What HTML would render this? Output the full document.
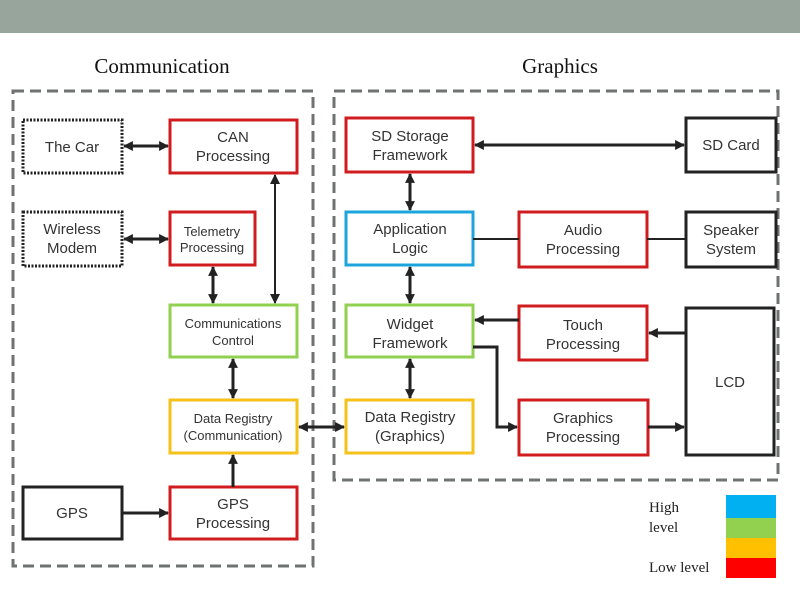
<!DOCTYPE html>
<html><head><style>body{margin:0;background:#fff}</style></head><body>
<svg width="800" height="600" xmlns="http://www.w3.org/2000/svg" font-family="Liberation Sans, sans-serif">
<defs>
<marker id="a" viewBox="0 0 10 10" refX="9" refY="5" markerWidth="3.3" markerHeight="3.3" orient="auto-start-reverse"><path d="M0,0L10,5L0,10z" fill="#222"/></marker>
<marker id="b" viewBox="0 0 10 10" refX="9" refY="5" markerWidth="5" markerHeight="5" orient="auto-start-reverse"><path d="M0,0L10,5L0,10z" fill="#222"/></marker>
</defs>
<rect x="0" y="0" width="800" height="33" fill="#97a59c"/>
<g font-family="Liberation Serif, serif" font-size="21" text-anchor="middle" fill="#111">
<text x="162" y="73">Communication</text><text x="560" y="73">Graphics</text></g>
<g fill="none" stroke="#6f7370" stroke-width="3" stroke-dasharray="11,6">
<rect x="13" y="91" width="300" height="475"/><rect x="334" y="91" width="444" height="389"/></g>
<g fill="#fff" stroke-width="3">
<rect x="23" y="120" width="99" height="53" stroke="#222" stroke-dasharray="2,1.5"/>
<rect x="23" y="212" width="99" height="54" stroke="#222" stroke-dasharray="2,1.5"/>
<rect x="170" y="120" width="127" height="53" stroke="#d01c1f"/>
<rect x="170" y="212" width="85" height="53" stroke="#d01c1f"/>
<rect x="170" y="305" width="127" height="52" stroke="#92d050"/>
<rect x="170" y="400" width="127" height="53" stroke="#f5c21b"/>
<rect x="23" y="487" width="99" height="52" stroke="#222"/>
<rect x="170" y="487" width="127" height="52" stroke="#d01c1f"/>
<rect x="346" y="118" width="127" height="54" stroke="#d01c1f"/>
<rect x="686" y="118" width="90" height="54" stroke="#222"/>
<rect x="346" y="212" width="127" height="53" stroke="#1ca5dd"/>
<rect x="519" y="212" width="128" height="55" stroke="#d01c1f"/>
<rect x="686" y="212" width="90" height="55" stroke="#222"/>
<rect x="346" y="305" width="127" height="52" stroke="#92d050"/>
<rect x="519" y="306" width="128" height="54" stroke="#d01c1f"/>
<rect x="686" y="308" width="88" height="147" stroke="#222"/>
<rect x="346" y="400" width="127" height="53" stroke="#f5c21b"/>
<rect x="519" y="400" width="129" height="55" stroke="#d01c1f"/>
</g>
<g stroke="#222" stroke-width="3" fill="none">
<line x1="124" y1="146" x2="168" y2="146" marker-start="url(#a)" marker-end="url(#a)"/>
<line x1="124" y1="239" x2="168" y2="239" marker-start="url(#a)" marker-end="url(#a)"/>
<line x1="213" y1="267" x2="213" y2="303" marker-start="url(#a)" marker-end="url(#a)"/>
<line x1="275" y1="175" x2="275" y2="303" stroke-width="2" marker-start="url(#b)" marker-end="url(#b)"/>
<line x1="233" y1="359" x2="233" y2="398" marker-start="url(#a)" marker-end="url(#a)"/>
<line x1="122" y1="513" x2="168" y2="513" marker-end="url(#a)"/>
<line x1="233" y1="487" x2="233" y2="455" marker-end="url(#a)"/>
<line x1="299" y1="427" x2="344" y2="427" marker-start="url(#a)" marker-end="url(#a)"/>
<line x1="475" y1="145" x2="684" y2="145" marker-start="url(#a)" marker-end="url(#a)"/>
<line x1="410" y1="174" x2="410" y2="210" marker-start="url(#a)" marker-end="url(#a)"/>
<line x1="473" y1="239" x2="519" y2="239" stroke-width="2"/>
<line x1="647" y1="239" x2="686" y2="239" stroke-width="2"/>
<line x1="410" y1="267" x2="410" y2="303" marker-start="url(#a)" marker-end="url(#a)"/>
<line x1="410" y1="359" x2="410" y2="398" marker-start="url(#a)" marker-end="url(#a)"/>
<line x1="519" y1="320" x2="475" y2="320" marker-end="url(#a)"/>
<polyline points="473,347 497,347 497,427 517,427" marker-end="url(#a)"/>
<line x1="686" y1="333" x2="649" y2="333" marker-end="url(#a)"/>
<line x1="648" y1="427" x2="684" y2="427" marker-end="url(#a)"/>
</g>
<g font-size="15" fill="#333" text-anchor="middle">
<text x="72" y="152">The Car</text>
<text x="72" y="234">Wireless</text><text x="72" y="253">Modem</text>
<text x="233" y="142">CAN</text><text x="233" y="161">Processing</text>
<text x="212" y="236" font-size="13">Telemetry</text><text x="212" y="252" font-size="13">Processing</text>
<text x="233" y="328" font-size="13">Communications</text><text x="233" y="345" font-size="13">Control</text>
<text x="233" y="423" font-size="13">Data Registry</text><text x="233" y="440" font-size="13">(Communication)</text>
<text x="72" y="518">GPS</text>
<text x="233" y="509">GPS</text><text x="233" y="528">Processing</text>
<text x="410" y="141">SD Storage</text><text x="410" y="160">Framework</text>
<text x="731" y="150">SD Card</text>
<text x="410" y="234">Application</text><text x="410" y="253">Logic</text>
<text x="583" y="235">Audio</text><text x="583" y="254">Processing</text>
<text x="731" y="235">Speaker</text><text x="731" y="254">System</text>
<text x="410" y="329">Widget</text><text x="410" y="348">Framework</text>
<text x="583" y="330">Touch</text><text x="583" y="349">Processing</text>
<text x="730" y="387">LCD</text>
<text x="410" y="422">Data Registry</text><text x="410" y="441">(Graphics)</text>
<text x="583" y="423">Graphics</text><text x="583" y="442">Processing</text>
</g>
<g font-family="Liberation Serif, serif" font-size="15" fill="#222">
<text x="649" y="512">High</text><text x="649" y="532">level</text><text x="649" y="572">Low level</text></g>
<rect x="726" y="495" width="50" height="23" fill="#00b0f0"/>
<rect x="726" y="518" width="50" height="20" fill="#92d050"/>
<rect x="726" y="538" width="50" height="20" fill="#ffc000"/>
<rect x="726" y="558" width="50" height="20" fill="#ff0000"/>
</svg>
</body></html>
